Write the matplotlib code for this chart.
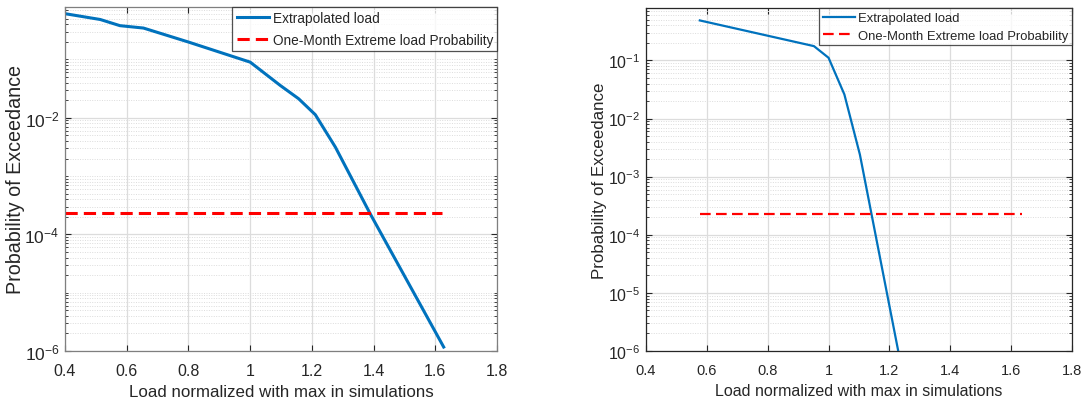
import math

import matplotlib
matplotlib.use("Agg")
import matplotlib.pyplot as plt
from matplotlib.ticker import LogLocator, FixedLocator, NullFormatter, FuncFormatter

plt.rcParams["font.family"] = ["Liberation Sans", "DejaVu Sans"]
plt.rcParams["mathtext.fontset"] = "custom"
plt.rcParams["mathtext.rm"] = "Liberation Sans"
plt.rcParams["mathtext.it"] = "Liberation Sans"
plt.rcParams["mathtext.default"] = "regular"

# left panel: extrapolated load curve
left_x = [0.40, 0.514, 0.578, 0.654, 0.80, 1.00, 1.097, 1.157, 1.211, 1.276, 1.389, 1.627]
left_p = [0.61, 0.485, 0.38, 0.346, 0.199, 0.09, 0.036, 0.0212, 0.0113, 0.00314, 2.25e-4, 1.17e-6]
left_month_x = [0.40, 1.622]
left_month_p = [2.32e-4, 2.32e-4]

# right panel
right_x = [0.577, 0.952, 1.00, 1.052, 1.103, 1.229]
right_p = [0.487, 0.176, 0.111, 0.026, 0.0024, 1.0e-6]
right_month_x = [0.577, 1.635]
right_month_p = [2.3e-4, 2.3e-4]

x_ticks = [0.4, 0.6, 0.8, 1.0, 1.2, 1.4, 1.6, 1.8]
BLUE = "#0072BD"
TXT = "#262626"


def sci(v, _):
    if v <= 0:
        return ""
    e = int(round(math.log10(v)))
    return r"$10^{-%d}$" % abs(e) if e < 0 else r"$10^{%d}$" % e


def style_axes(ax, major_decades, fs_tick, fs_xlabel, fs_ylabel, fs_leg, edge, leg_space, ylab_x):
    ax.set_yscale("log")
    ax.set_xlim(0.4, 1.8)
    ax.set_ylim(1e-6, 10 ** -0.1)
    ax.set_xticks(x_ticks)
    ax.xaxis.set_major_formatter(FuncFormatter(lambda v, _: f"{v:g}"))
    ax.yaxis.set_major_locator(FixedLocator(major_decades))
    ax.yaxis.set_major_formatter(FuncFormatter(sci))
    ax.yaxis.set_minor_locator(LogLocator(base=10, subs=range(1, 10), numticks=50))
    ax.yaxis.set_minor_formatter(NullFormatter())
    ax.grid(True, which="major", color="#dcdcdc", linewidth=0.9)
    ax.grid(True, which="minor", axis="y", color="#dcdcdc", linestyle=(0, (1, 1.5)), linewidth=0.7)
    ax.set_axisbelow(True)
    ax.tick_params(which="both", direction="in", top=True, right=True, colors=TXT,
                   labelsize=fs_tick, labelcolor=TXT)
    ax.tick_params(which="major", length=4, width=0.8)
    ax.tick_params(which="minor", length=2.5, width=0.6)
    ax.tick_params(axis="x", pad=9)
    ax.tick_params(axis="y", labelsize=fs_tick + 1, pad=4)
    for s in ax.spines.values():
        s.set_color(edge)
        s.set_linewidth(0.9)
    ax.set_xlabel("Load normalized with max in simulations", fontsize=fs_xlabel, color=TXT, labelpad=4)
    ax.set_ylabel("Probability of Exceedance", fontsize=fs_ylabel, color=TXT)
    ax.yaxis.set_label_coords(ylab_x, 0.5)
    leg = ax.legend(loc="upper right", fontsize=fs_leg, frameon=True, fancybox=False,
                    borderaxespad=0, handlelength=2.4, borderpad=0.3, labelspacing=leg_space,
                    handletextpad=0.25)
    leg.get_frame().set_edgecolor("#262626")
    leg.get_frame().set_linewidth(0.9)
    for t in leg.get_texts():
        t.set_color(TXT)


fig = plt.figure(figsize=(10.86, 4.02), dpi=100)
ax1 = fig.add_axes([0.0599, 0.1244, 0.3978, 0.8557])
ax2 = fig.add_axes([0.5948, 0.1244, 0.3923, 0.853])

ax1.plot(left_x, left_p, color=BLUE, linewidth=2.2, label="Extrapolated load")
ax1.plot(left_month_x, left_month_p, color="#ff0000", linewidth=2.2, linestyle=(0, (4, 2)),
         label="One-Month Extreme load Probability")
style_axes(ax1, [1e-6, 1e-4, 1e-2], 11.5, 12.2, 14.2, 9.8, "#7f7f7f", 0.55, -0.092)

ax2.plot(right_x, right_p, color=BLUE, linewidth=1.6, label="Extrapolated load")
ax2.plot(right_month_x, right_month_p, color="#ff0000", linewidth=1.6, linestyle=(0, (4.8, 2.4)),
         label="One-Month Extreme load Probability")
style_axes(ax2, [1e-6, 1e-5, 1e-4, 1e-3, 1e-2, 1e-1], 10.5, 11.5, 12.2, 9.4, "#262626", 0.4, -0.0915)

fig.savefig("out.png", dpi=100, facecolor="white")
